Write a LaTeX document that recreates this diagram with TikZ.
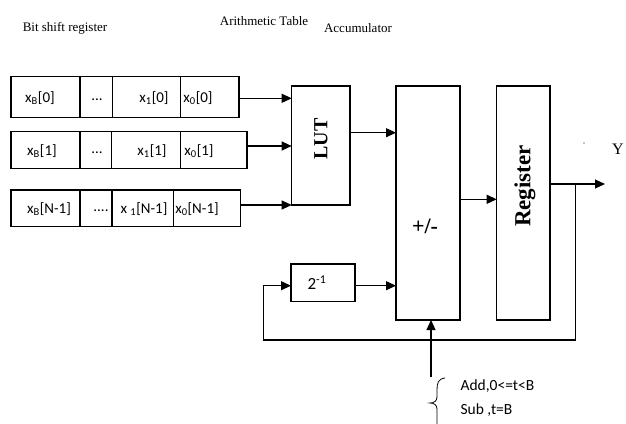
\documentclass[tikz,border=0pt]{standalone}
\usepackage{fontspec}
\setmainfont{Liberation Serif}
\newfontfamily\calfnt{Carlito}
\usetikzlibrary{arrows.meta}
\begin{document}
\begin{tikzpicture}[x=1pt,y=-1pt,
  line width=1.1pt,
  box/.style={draw,rectangle,inner sep=0pt,outer sep=0pt},
  arr/.style={-{Triangle[length=10pt,width=9pt]}},
  cell/.style={inner sep=0pt,font=\calfnt\fontsize{15}{17}\selectfont},
  title/.style={inner sep=0pt,font=\fontsize{13}{15}\selectfont},
  vlabel/.style={inner sep=0pt,rotate=90,font=\bfseries}]
\useasboundingbox (0,0) rectangle (626,423);

% headings
\node[title] (t1) at (65,28) {Bit shift register};
\node[title] (t2) at (264,21) {Arithmetic Table};
\node[title] (t3) at (358,28) {Accumulator};

% bit shift register rows
\node[box,minimum width=228pt,minimum height=40.6pt] (r0) at (125,97) {};
\node[box,minimum width=236pt,minimum height=36.6pt] (r1) at (129,150) {};
\node[box,minimum width=229.7pt,minimum height=36.7pt] (r2) at (125.85,208.35) {};
\draw (80,76.7) -- (80,117.3) (112.7,76.7) -- (112.7,117.3) (180.7,76.7) -- (180.7,117.3);
\draw (80,131.7) -- (80,168.3) (111.7,131.7) -- (111.7,168.3) (180.7,131.7) -- (180.7,168.3);
\draw (80,190) -- (80,226.7) (112,190) -- (112,226.7) (173.3,190) -- (173.3,226.7);

\node[cell] (a0) at (40,98) {x\textsubscript{B}[0]};
\node[cell] (b0) at (97,100) {...};
\node[cell] (c0) at (154,98) {x\textsubscript{1}[0]};
\node[cell] (d0) at (198,98) {x\textsubscript{0}[0]};
\node[cell] (a1) at (42,151) {x\textsubscript{B}[1]};
\node[cell] (b1) at (97,153) {...};
\node[cell] (c1) at (152,151) {x\textsubscript{1}[1]};
\node[cell] (d1) at (199,151) {x\textsubscript{0}[1]};
\node[cell] (a2) at (49,209) {x\textsubscript{B}[N-1]};
\node[cell] (b2) at (101,211) {....};
\node[cell] (c2) at (144,209) {x \textsubscript{1}[N-1]};
\node[cell] (d2) at (197,209) {x\textsubscript{0}[N-1]};

% processing blocks
\node[box,minimum width=58.3pt,minimum height=119pt] (lut) at (320.85,145.5) {};
\node[vlabel,font=\fontsize{20}{22}\selectfont\bfseries] (luttxt) at (321,139) {LUT};
\node[box,minimum width=64pt,minimum height=234pt] (acc) at (428,203) {};
\node[inner sep=0pt,font=\fontsize{22}{24}\selectfont\bfseries] (pm) at (425,226) {+/-};
\node[box,minimum width=53.3pt,minimum height=234pt] (reg) at (523.35,203) {};
\node[vlabel,font=\fontsize{23}{25}\selectfont\bfseries] (regtxt) at (525,186) {Register};
\node[box,minimum width=64pt,minimum height=37.7pt,font=\calfnt\fontsize{17}{19}\selectfont] (half) at (323,282.85)
  {\hspace*{-12pt}2\textsuperscript{-1}};

\node[inner sep=0pt,font=\fontsize{16}{18}\selectfont] (y) at (618,149) {Y};
\fill (584,143) circle (0.6pt);

% data paths
\draw[arr] (r0.east |- 0,98.3) -- (lut.west |- 0,98.3);
\draw[arr] (r1.east |- 0,146) -- (lut.west |- 0,146);
\draw[arr] (r2.east |- 0,205) -- (lut.west |- 0,205);
\draw[arr] (lut.east |- 0,132.7) -- (acc.west |- 0,132.7);
\draw[arr] (acc.east |- 0,199.3) -- (reg.west |- 0,199.3);
\draw[arr] (half.east |- 0,285.7) -- (acc.west |- 0,285.7);
\coordinate (out) at (605,184);
\coordinate (tap) at (575.3,184);
\draw[arr] (reg.east |- out) -- (out);
\draw[arr] (tap) -- (575.3,340) -- (263.3,340) -- (263.3,285.7) -- (half.west |- 0,285.7);

% add/sub control
\coordinate (ctl) at (431,376.7);
\draw[arr] (ctl) -- (ctl |- acc.south);
\draw[line width=0.8pt] (445,378) .. controls (438,379) and (437,383) .. (437,390)
  -- (437,397) .. controls (437,401) and (434,403) .. (430,403)
  .. controls (434,403) and (437,405) .. (437,409) -- (437,424);
\node[inner sep=0pt,anchor=west,font=\calfnt\fontsize{15.5}{17}\selectfont] (add) at (460,386) {Add,0<=t<B};
\node[inner sep=0pt,anchor=west,font=\calfnt\fontsize{15.5}{17}\selectfont] (sub) at (460,410) {Sub ,t=B};
\end{tikzpicture}
\end{document}
